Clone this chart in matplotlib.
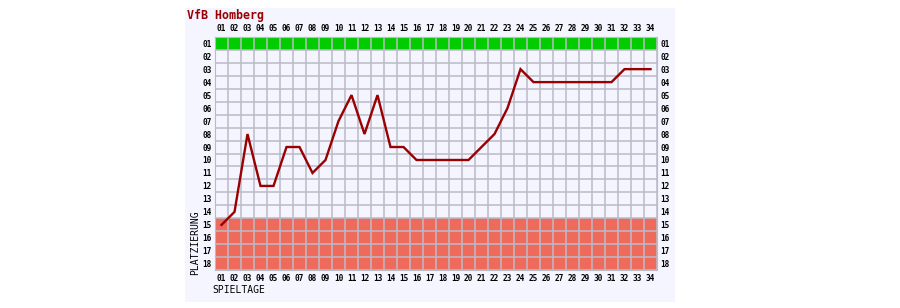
import matplotlib
matplotlib.use("Agg")
import matplotlib.pyplot as plt
from matplotlib.patches import Rectangle

# Tabellenplatz je Spieltag
spieltage = list(range(1, 35))
platz = [15, 14, 8, 12, 12, 9, 9, 11, 10, 7, 5, 8, 5, 9, 9, 10, 10, 10, 10, 10,
         9, 8, 6, 3, 4, 4, 4, 4, 4, 4, 4, 3, 3, 3]
n_plaetze = 18
aufstieg = [1]
abstieg = [15, 16, 17, 18]
titel = "VfB Homberg"

mono = "DejaVu Sans Mono"
bg = "#f5f5ff"
gridc = "#bbbbc8"

fig = plt.figure(figsize=(9, 3.08), dpi=100)
fig.patch.set_facecolor("white")
fig.patches.append(Rectangle((185 / 900, 1 - 302 / 308), 490 / 900, 294 / 308,
                             transform=fig.transFigure, facecolor=bg,
                             edgecolor="none", zorder=-10))

ax = fig.add_axes([215 / 900, 1 - 270.3 / 308, 442 / 900, 233.6 / 308])
ax.set_zorder(1)
ax.set_facecolor(bg)
ax.set_xlim(0.5, len(spieltage) + 0.5)
ax.set_ylim(n_plaetze + 0.5, 0.5)

for p in aufstieg:
    ax.axhspan(p - 0.5, p + 0.5, color="#00cc00", lw=0, zorder=1)
for p in abstieg:
    ax.axhspan(p - 0.5, p + 0.5, color="#ee6a5a", lw=0, zorder=1)

# Gitter an den Zellgrenzen
for x in range(len(spieltage) + 1):
    ax.axvline(x + 0.5, color=gridc, lw=1.1, zorder=2)
for y in range(n_plaetze + 1):
    ax.axhline(y + 0.5, color=gridc, lw=1.1, zorder=2)

ax.plot(spieltage, platz, color="#990000", lw=1.7, zorder=3,
        solid_joinstyle="miter")

ax.set_xticks(spieltage)
ax.set_xticklabels(["%02d" % d for d in spieltage])
ax.set_yticks(range(1, n_plaetze + 1))
ax.set_yticklabels(["%02d" % p for p in range(1, n_plaetze + 1)])
ax.tick_params(length=0, labelsize=5.6, labeltop=True, labelright=True,
               colors="black")
ax.tick_params(axis="x", pad=3)
ax.tick_params(axis="y", pad=2.5)
for lab in ax.get_xticklabels() + ax.get_yticklabels():
    lab.set_family(mono)
    lab.set_fontweight("bold")
for s in ax.spines.values():
    s.set_color(gridc)

fig.text(187 / 900, 1 - 16 / 308, titel, color="#990000", fontsize=8.4,
         family=mono, fontweight="bold", va="center", ha="left")
fig.text(195 / 900, 1 - 275 / 308, "PLATZIERUNG", rotation=90, fontsize=7,
         family=mono, va="bottom", ha="center")
fig.text(212 / 900, 1 - 290 / 308, "SPIELTAGE", fontsize=7, family=mono,
         va="center", ha="left")

fig.savefig("out.png", dpi=100, facecolor="white")
